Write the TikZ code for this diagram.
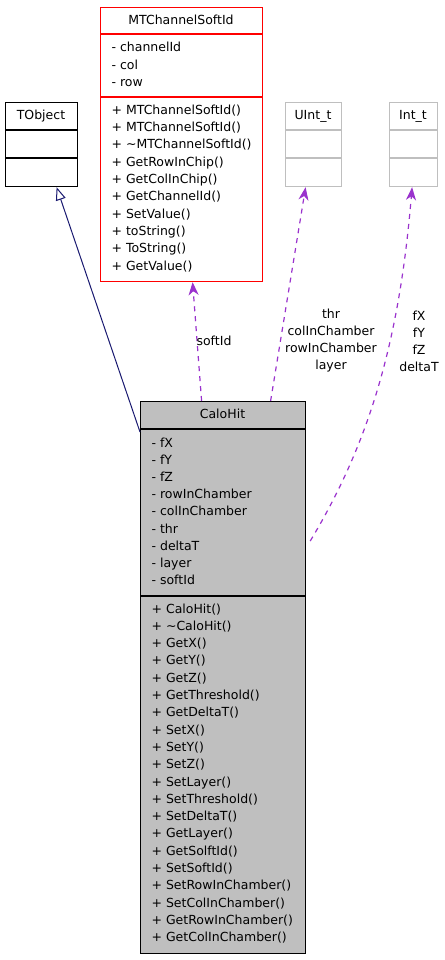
\documentclass[tikz,border=0pt]{standalone}
\usepackage{fontspec}
\setmainfont{DejaVu Sans}
\usetikzlibrary{arrows.meta,calc}
\definecolor{edgeblue}{RGB}{25,25,112}
\definecolor{edgeviolet}{RGB}{154,50,205}
\definecolor{boxgray}{RGB}{191,191,191}
\begin{document}
\begin{tikzpicture}[x=1pt,y=-1pt,line width=1.2pt,font=\fontsize{12.5}{17}\selectfont,
	cls/.style={draw,anchor=north west,inner sep=0pt},
	txt/.style={anchor=base west,inner sep=0pt},
	ttl/.style={anchor=base,inner sep=0pt},
	inherit/.style={edgeblue,line width=1pt,-{Triangle[open,length=13pt,width=10pt]}},
	usage/.style={edgeviolet,dash pattern=on 5pt off 5pt,-{Stealth[length=13pt,width=10pt,inset=4pt]}}]
	\useasboundingbox (0,0) rectangle (444,960);
	% class boxes
	\node[cls,minimum width=72pt,minimum height=84pt] (tobj) at (5,102) {};
	\node[cls,red,minimum width=162pt,minimum height=274pt] (softid) at (100,7) {};
	\node[cls,boxgray,minimum width=56pt,minimum height=84pt] (uint) at (285,102) {};
	\node[cls,boxgray,minimum width=48pt,minimum height=84pt] (intt) at (389,102) {};
	\node[cls,fill=boxgray,minimum width=165pt,minimum height=552pt] (calo) at (140,401) {};
	\draw (tobj.west |- 0,130) -- (tobj.east |- 0,130) (tobj.west |- 0,158) -- (tobj.east |- 0,158);
	\draw[red] (softid.west |- 0,34) -- (softid.east |- 0,34) (softid.west |- 0,97) -- (softid.east |- 0,97);
	\draw[boxgray] (uint.west |- 0,130) -- (uint.east |- 0,130) (uint.west |- 0,158) -- (uint.east |- 0,158);
	\draw[boxgray] (intt.west |- 0,130) -- (intt.east |- 0,130) (intt.west |- 0,158) -- (intt.east |- 0,158);
	\draw (calo.west |- 0,429) -- (calo.east |- 0,429) (calo.west |- 0,596) -- (calo.east |- 0,596);
	% titles and members
	\node[ttl] (tobj-t) at (41,119.5) {TObject};
	\node[ttl] (uint-t) at (313,119.5) {UInt\_t};
	\node[ttl] (intt-t) at (413,119.5) {Int\_t};
	\node[ttl] (softid-t) at (181,24.5) {MTChannelSoftId};
	\foreach \t [count=\i] in {channelId,col,row}
		\node[txt] (softid-a\i) at (111,{52+17.33*(\i-1)}) {- \t};
	\foreach \t [count=\i] in {MTChannelSoftId(),MTChannelSoftId(),\textasciitilde MTChannelSoftId(),GetRowInChip(),GetColInChip(),GetChannelId(),SetValue(),toString(),ToString(),GetValue()}
		\node[txt] (softid-m\i) at (111,{114.3+17.33*(\i-1)}) {+ \t};
	\node[ttl] (calo-t) at (222.5,418.5) {CaloHit};
	\foreach \t [count=\i] in {fX,fY,fZ,rowInChamber,colInChamber,thr,deltaT,layer,softId}
		\node[txt] (calo-a\i) at (151,{447.5+17.1*(\i-1)}) {- \t};
	\foreach \t [count=\i] in {CaloHit(),\textasciitilde CaloHit(),GetX(),GetY(),GetZ(),GetThreshold(),GetDeltaT(),SetX(),SetY(),SetZ(),SetLayer(),SetThreshold(),SetDeltaT(),GetLayer(),GetSolftId(),SetSoftId(),SetRowInChamber(),SetColInChamber(),GetRowInChamber(),GetColInChamber()}
		\node[txt] (calo-m\i) at (151,{613+17.3*(\i-1)}) {+ \t};
	% relations
	\draw[inherit] ($(calo.north west)+(0,31)$) -- ($(tobj.south)+(15,0)$);
	\draw[usage] ($(calo.north)+(-21.5,0)$) -- ($(softid.south)+(11,0)$);
	\draw[usage] ($(calo.north)+(47.5,0)$) -- ($(uint.south)+(-8,0)$);
	\draw[usage] ($(calo.north east)+(4,140)$) .. controls +(61,-101) and +(-12.5,150) .. ($(intt.south)+(-1.5,0)$);
	\node (lbl-soft) at (214,340.7) {softId};
	\node[align=center] (lbl-uint) at (331,341) {thr\\colInChamber\\rowInChamber\\layer};
	\node[align=center] (lbl-intt) at (419,341) {fX\\fY\\fZ\\deltaT};
\end{tikzpicture}
\end{document}
